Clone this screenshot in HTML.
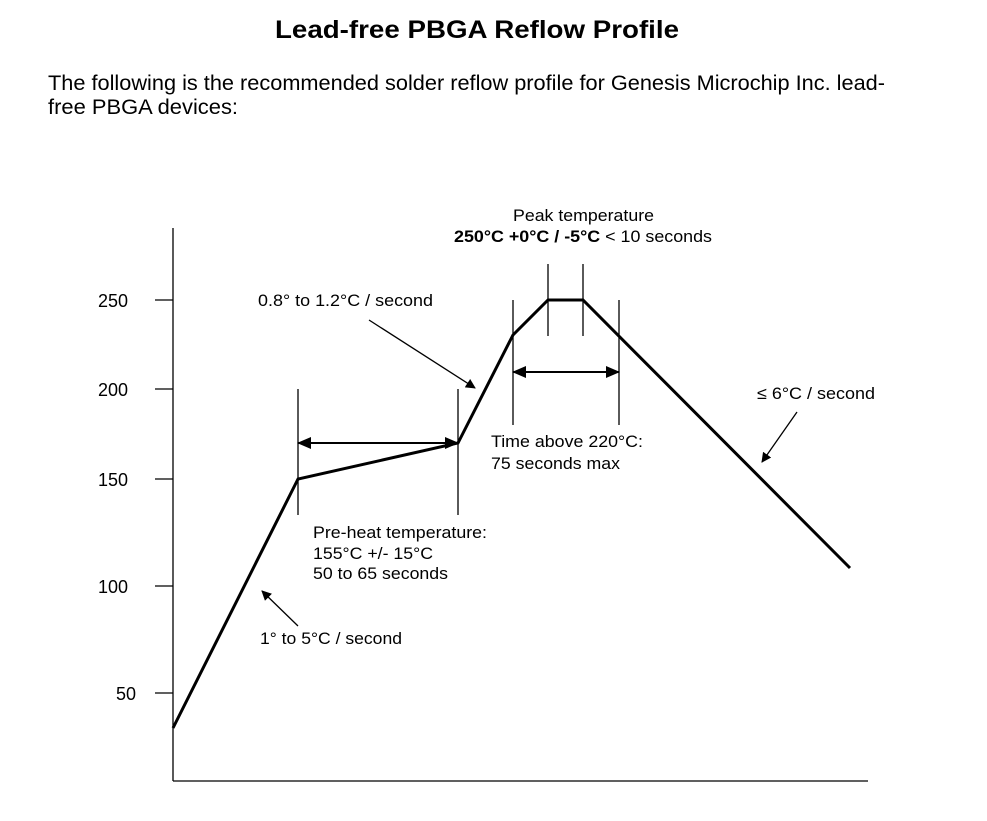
<!DOCTYPE html>
<html><head><meta charset="utf-8"><style>
html,body{margin:0;padding:0;background:#fff;}
svg{display:block;}
text{font-family:"Liberation Sans",Arial,sans-serif;fill:#000;}
</style></head><body>
<svg width="987" height="821" viewBox="0 0 987 821" xmlns="http://www.w3.org/2000/svg">
<defs>
<marker id="ah" markerWidth="10" markerHeight="10" refX="9" refY="5" orient="auto" markerUnits="userSpaceOnUse" viewBox="0 0 10 10">
<path d="M0,0 L10,5 L0,10 z" fill="#000"/></marker>
<marker id="ah2" markerWidth="14" markerHeight="12" refX="13" refY="6" orient="auto" markerUnits="userSpaceOnUse" viewBox="0 0 14 12">
<path d="M0,0 L14,6 L0,12 z" fill="#000"/></marker>
<marker id="ah2s" markerWidth="14" markerHeight="12" refX="13" refY="6" orient="auto-start-reverse" markerUnits="userSpaceOnUse" viewBox="0 0 14 12">
<path d="M0,0 L14,6 L0,12 z" fill="#000"/></marker>
</defs>
<text x="275" y="38" font-size="25" font-weight="bold" textLength="404" lengthAdjust="spacingAndGlyphs">Lead-free PBGA Reflow Profile</text>
<text x="48" y="90" font-size="21" textLength="837" lengthAdjust="spacingAndGlyphs">The following is the recommended solder reflow profile for Genesis Microchip Inc. lead-</text>
<text x="48" y="114" font-size="21" textLength="190" lengthAdjust="spacingAndGlyphs">free PBGA devices:</text>

<g stroke="#000" stroke-width="1.3" fill="none">
<line x1="173" y1="228" x2="173" y2="781"/>
<line x1="173" y1="781" x2="868" y2="781"/>
<line x1="155" y1="300" x2="173" y2="300"/>
<line x1="155" y1="389" x2="173" y2="389"/>
<line x1="155" y1="479" x2="173" y2="479"/>
<line x1="155" y1="586" x2="173" y2="586"/>
<line x1="155" y1="693" x2="173" y2="693"/>
<line x1="298" y1="389" x2="298" y2="515"/>
<line x1="458" y1="389" x2="458" y2="515"/>
<line x1="513" y1="300" x2="513" y2="425"/>
<line x1="619" y1="300" x2="619" y2="425"/>
<line x1="548" y1="264" x2="548" y2="336"/>
<line x1="583" y1="264" x2="583" y2="336"/>
<line x1="298" y1="443" x2="458" y2="443" marker-start="url(#ah2s)" marker-end="url(#ah2)" stroke-width="2"/>
<line x1="513" y1="372" x2="619" y2="372" marker-start="url(#ah2s)" marker-end="url(#ah2)" stroke-width="2"/>
<line x1="369" y1="320" x2="475" y2="388" marker-end="url(#ah)"/>
<line x1="298" y1="626" x2="262" y2="591" marker-end="url(#ah)"/>
<line x1="797" y1="412" x2="762" y2="462" marker-end="url(#ah)"/>
</g>
<polyline points="173,728 298,479 458,443 513,335 548,300 583,300 850,568" fill="none" stroke="#000" stroke-width="3" stroke-linejoin="miter"/>

<g font-size="18">
<text x="98" y="307">250</text>
<text x="98" y="396">200</text>
<text x="98" y="486">150</text>
<text x="98" y="593">100</text>
<text x="116" y="700">50</text>
</g>
<g font-size="17">
<text x="513" y="221" textLength="141" lengthAdjust="spacingAndGlyphs">Peak temperature</text>
<text x="454" y="242" textLength="258" lengthAdjust="spacingAndGlyphs"><tspan font-weight="bold">250°C +0°C / -5°C</tspan> &lt; 10 seconds</text>
<text x="258" y="306" textLength="175" lengthAdjust="spacingAndGlyphs">0.8° to 1.2°C / second</text>
<text x="757" y="399" textLength="118" lengthAdjust="spacingAndGlyphs">≤ 6°C / second</text>
<text x="491" y="447" textLength="152" lengthAdjust="spacingAndGlyphs">Time above 220°C:</text>
<text x="491" y="469" textLength="129" lengthAdjust="spacingAndGlyphs">75 seconds max</text>
<text x="313" y="538" textLength="174" lengthAdjust="spacingAndGlyphs">Pre-heat temperature:</text>
<text x="313" y="559" textLength="120" lengthAdjust="spacingAndGlyphs">155°C +/- 15°C</text>
<text x="313" y="579" textLength="135" lengthAdjust="spacingAndGlyphs">50 to 65 seconds</text>
<text x="260" y="644" textLength="142" lengthAdjust="spacingAndGlyphs">1° to 5°C / second</text>
</g>
</svg>
</body></html>
